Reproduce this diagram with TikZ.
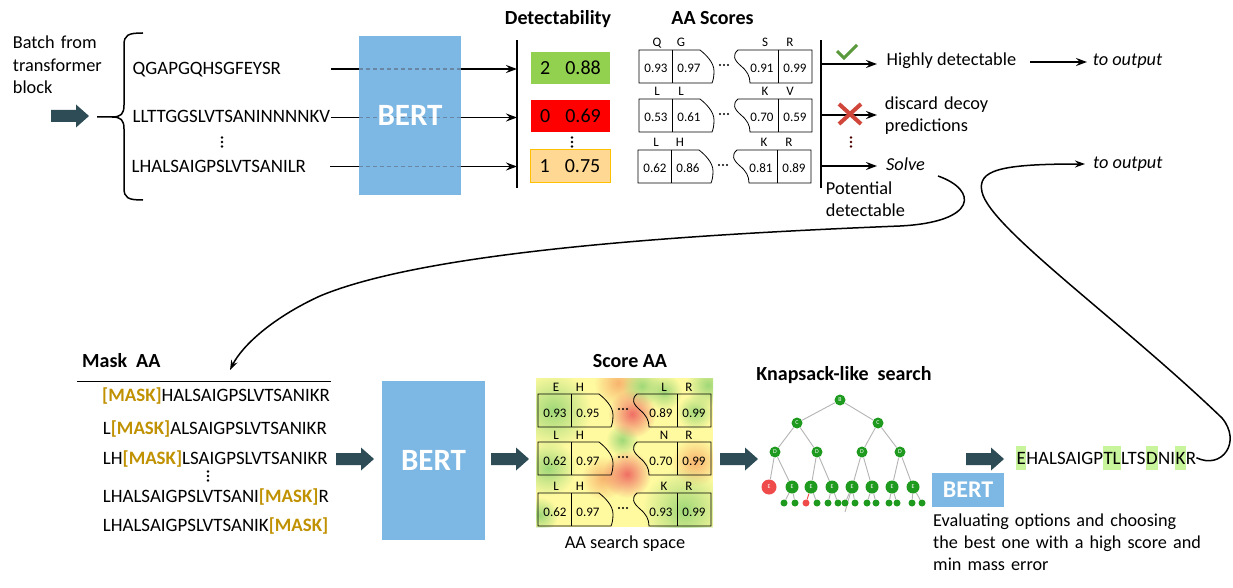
\documentclass[tikz,border=0pt]{standalone}
\usepackage{fontspec}
\setmainfont{Carlito}
\usetikzlibrary{arrows.meta,fadings}
\definecolor{bertblue}{RGB}{125,183,227}
\definecolor{darkarrow}{RGB}{46,76,85}
\definecolor{maskc}{RGB}{192,145,0}
\definecolor{detgreen}{RGB}{146,208,80}
\definecolor{detred}{RGB}{255,0,0}
\definecolor{detorange}{RGB}{255,217,148}
\definecolor{detorangeb}{RGB}{255,192,0}
\definecolor{checkc}{RGB}{90,154,60}
\definecolor{crossc}{RGB}{208,70,58}
\definecolor{hlgreen}{RGB}{200,244,155}
\definecolor{treegreen}{RGB}{30,154,30}
\definecolor{treered}{RGB}{240,75,75}
\definecolor{edgegray}{RGB}{180,180,180}
\definecolor{dashc}{RGB}{105,135,165}
\definecolor{heatyellow}{RGB}{255,250,160}
\definecolor{heatgreen}{RGB}{160,216,120}
\definecolor{heatred}{RGB}{240,110,100}
\definecolor{heatorange}{RGB}{248,180,110}
\tikzfading[name=softdot, inner color=transparent!0, outer color=transparent!100]
\newcommand{\mk}{\textcolor{maskc}{\textbf{[MASK]}}}
\newcommand{\hlb}[1]{{\setlength{\fboxsep}{0.5pt}\colorbox{hlgreen}{\rule[-5pt]{0pt}{22.5pt}#1}}}
\tikzset{
  txt/.style={inner sep=0pt, font=\fontsize{18.3}{22.5}\selectfont},
  seqtxt/.style={inner sep=0pt, font=\fontsize{18.9}{22.5}\selectfont},
  ttl/.style={inner sep=0pt, font=\fontsize{20}{24}\selectfont\bfseries},
  smalltxt/.style={inner sep=0pt, font=\fontsize{13}{15}\selectfont},
  arr/.style={line width=1.8pt, -{Stealth[length=11pt,width=8pt,inset=4pt]}},
  curvearr/.style={line width=1.5pt, -{Stealth[length=10pt,width=7pt,inset=3.5pt]}},
  bertbox/.style={fill=bertblue, inner sep=0pt},
  berttext/.style={inner sep=0pt, text=white, font=\fontsize{31}{31}\selectfont\bfseries},
  detbox/.style={minimum width=79pt, minimum height=32pt, inner sep=0pt, font=\fontsize{20}{20}\selectfont},
  blob/.style={path fading=softdot},
  tn/.style={circle, fill=treegreen, inner sep=0pt, minimum size=11pt, text=white, font=\fontsize{6}{6}\selectfont},
  te/.style={tn, minimum size=13pt},
  tleaf/.style={circle, fill=treegreen, inner sep=0pt, minimum size=7pt},
  tedge/.style={draw=edgegray, line width=0.9pt},
  pics/vdot/.style={code={
    \fill (0,-4.5) circle (1.3) (0,0) circle (1.3) (0,4.5) circle (1.3);}},
  pics/darr/.style={code={
    \fill[darkarrow] (0,-6) -- (25,-6) -- (25,-11.5) -- (38,0) -- (25,11.5) -- (25,6) -- (0,6) -- cycle;}},
  pics/aarow/.style n args={8}{code={
    \draw[line width=0.8pt] (0,0) -- (61,0) .. controls (66,4) and (75,12) .. (75,21) .. controls (75,27) and (74,31) .. (73,33) -- (0,33) -- cycle;
    \draw[line width=0.8pt] (33,0) -- (33,33);
    \draw[line width=0.8pt] (173,0) -- (99,0) .. controls (93,5) and (95,10) .. (102,16) .. controls (108,21) and (111,26) .. (111,33) -- (173,33) -- cycle;
    \draw[line width=0.8pt] (139,0) -- (139,33);
    \fill (81,15) circle (1.1) (85,15) circle (1.1) (89,15) circle (1.1);
    \node[smalltxt, anchor=base] (-l1) at (18,-3) {#1};
    \node[smalltxt, anchor=base] (-l2) at (42,-3) {#2};
    \node[smalltxt, anchor=base] (-l3) at (126,-3) {#3};
    \node[smalltxt, anchor=base] (-l4) at (151,-3) {#4};
    \node[smalltxt, anchor=base] (-n1) at (17,23) {#5};
    \node[smalltxt, anchor=base] (-n2) at (50,23) {#6};
    \node[smalltxt, anchor=base] (-n3) at (123,23) {#7};
    \node[smalltxt, anchor=base] (-n4) at (156,23) {#8};
  }}
}
\begin{document}
\begin{tikzpicture}[x=1pt,y=-1pt]
\useasboundingbox (0,0) rectangle (1233,588);
\fill[white] (0,0) rectangle (1233,588);

% ---------------- top row ----------------
\node[txt, anchor=base west, text width=110pt, align=left] (batch) at (12.7,49) {Batch from\\transformer\\block};
\pic at (51,116) {darr};
\draw[line width=1.5pt] (143,33) .. controls (128,33) and (124,35) .. (124,45) -- (124,105) .. controls (124,114) and (121,117) .. (112,117) -- (97,117);
\draw[line width=1.5pt] (143,200) .. controls (128,200) and (124,198) .. (124,188) -- (124,129) .. controls (124,120) and (121,117) .. (112,117);

\node[seqtxt, anchor=base west] (s1) at (132.5,75) {QGAPGQHSGFEYSR};
\node[seqtxt, anchor=base west] (s2) at (132.5,123) {LLTTGGSLVTSANINNNNKV};
\pic at (222,142) {vdot};
\node[seqtxt, anchor=base west] (s3) at (131.5,173) {LHALSAIGPSLVTSANILR};

\coordinate (a1) at (331,69);   \coordinate (e1) at (517,69);
\coordinate (a2) at (331,117.5);\coordinate (e2) at (517,117.5);
\coordinate (a3) at (330,166.5);\coordinate (e3) at (517,166.5);
\draw[arr] (a1) -- (e1);
\draw[arr] (a2) -- (e2);
\draw[arr] (a3) -- (e3);

\node[bertbox, minimum width=102pt, minimum height=159pt] (bert1) at (410,115.5) {};
\draw[dashc, line width=1.2pt, dash pattern=on 4pt off 3pt] (359,69) -- (461,69) (359,117.5) -- (461,117.5) (359,166.5) -- (461,166.5);
\node[berttext] (bert1t) at (bert1.center) {BERT};

\draw[line width=1.2pt] (517,40) -- (517,188);
\node[ttl, anchor=base] (dettitle) at (558,25) {Detectability};
\node[detbox, fill=detgreen] (d1) at (570.5,68) {2\hspace{15pt}0.88};
\node[detbox, fill=detred] (d2) at (570.5,116) {0\hspace{15pt}0.69};
\pic at (572,142) {vdot};
\node[detbox, fill=detorange, draw=detorangeb, line width=1pt, minimum width=80pt, minimum height=33pt] (d3) at (570,166.5) {1\hspace{15pt}0.75};

\node[ttl, anchor=base] (aatitle) at (712.5,25) {AA Scores};
\pic (r1) at (639,50) {aarow={Q}{G}{S}{R}{0.93}{0.97}{0.91}{0.99}};
\pic (r2) at (639,99) {aarow={L}{L}{K}{V}{0.53}{0.61}{0.70}{0.59}};
\pic (r3) at (638,150) {aarow={L}{H}{K}{R}{0.62}{0.86}{0.81}{0.89}};

\draw[line width=1.2pt] (821,40) -- (821,188);
\coordinate (b1) at (821,64);  \coordinate (f1) at (877,64);
\coordinate (b2) at (821,115); \coordinate (f2) at (877,115);
\coordinate (b3) at (821,166); \coordinate (f3) at (877,166);
\draw[arr] (b1) -- (f1);
\draw[arr] (b2) -- (f2);
\draw[arr] (b3) -- (f3);
\draw[checkc, line width=3pt] (837,51) -- (844,58) -- (857,45);
\draw[crossc, line width=4pt] (839,104) -- (861,124) (839,124) -- (861,104);
\pic[black!70!red] at (851,142) {vdot};

\node[txt, anchor=base west] (hd) at (886.5,65.7) {Highly detectable};
\node[txt, anchor=base west, font=\fontsize{18.3}{22.5}\selectfont\itshape] (to1) at (1092.7,65.7) {to output};
\coordinate (h1) at (1030,62); \coordinate (h2) at (1087,62);
\draw[arr] (h1) -- (h2);
\node[txt, anchor=base west, text width=150pt, align=left, font=\fontsize{18.3}{22}\selectfont] (disc) at (884.7,109.3) {discard decoy\\predictions};
\node[txt, anchor=base west, font=\fontsize{18.3}{22.5}\selectfont\itshape] (solve) at (886,170.7) {Solve};
\node[txt, anchor=base west, text width=120pt, align=left, font=\fontsize{18.3}{22.7}\selectfont] (pot) at (825.7,194) {Potential\\detectable};
\node[txt, anchor=base west, font=\fontsize{18.3}{22.5}\selectfont\itshape] (to2) at (1093,169) {to output};

% ---------------- bottom row ----------------
\node[ttl, anchor=base west] (masktitle) at (82,367.3) {Mask~~AA};
\draw[line width=1pt] (77,381) -- (331,381);
\node[seqtxt, anchor=base west] (m1) at (102,401) {\mk HALSAIGPSLVTSANIKR};
\node[seqtxt, anchor=base west] (m2) at (102.7,434.3) {L\mk ALSAIGPSLVTSANIKR};
\node[seqtxt, anchor=base west] (m3) at (102.7,464.3) {LH\mk LSAIGPSLVTSANIKR};
\pic at (208,476) {vdot};
\node[seqtxt, anchor=base west] (m4) at (102.7,502.7) {LHALSAIGPSLVTSANI\mk R};
\node[seqtxt, anchor=base west] (m5) at (102.7,531.7) {LHALSAIGPSLVTSANIK\mk};

\coordinate (c1s) at (938,176);
\coordinate (c1e) at (230,370);
\draw[curvearr] (c1s) .. controls (978,190) and (978,222) .. (900,226) .. controls (700,234) and (430,250) .. (320,296) .. controls (272,318) and (242,346) .. (c1e);

\pic at (336,459) {darr};
\node[bertbox, minimum width=103pt, minimum height=159pt] (bert2) at (433.5,460.5) {};
\node[berttext] (bert2t) at (bert2.center) {BERT};
\pic at (491,459) {darr};

\node[ttl, anchor=base] (scoretitle) at (630,367.3) {Score AA};
\begin{scope}
  \clip (536,378) rectangle (713,527);
  \fill[heatyellow] (536,378) rectangle (713,527);
  \fill[heatorange, blob] (618,383) circle (24);
  \fill[heatorange, blob] (695,462) circle (24);
  \fill[heatorange, blob] (603,478) circle (22);
  \fill[heatgreen, blob] (553,410) circle (38);
  \fill[heatgreen, blob] (548,468) circle (28);
  \fill[heatgreen, blob] (642,386) circle (20);
  \fill[heatgreen, blob] (664,392) circle (18);
  \fill[heatgreen, blob] (622,440) circle (16);
  \fill[heatgreen, blob] (708,385) circle (22);
  \fill[heatgreen, blob] (695,412) circle (18);
  \fill[heatgreen, blob] (684,510) circle (42);
  \fill[heatgreen, blob] (540,515) circle (18);
  \fill[heatred, blob] (632,414) circle (24);
  \fill[heatred, blob] (627,474) circle (24);
\end{scope}
\pic (q1) at (538,394) {aarow={E}{H}{L}{R}{0.93}{0.95}{0.89}{0.99}};
\pic (q2) at (538,442) {aarow={L}{H}{N}{R}{0.62}{0.97}{0.70}{0.99}};
\pic (q3) at (538,493) {aarow={L}{H}{K}{R}{0.62}{0.97}{0.93}{0.99}};
\node[txt, anchor=base] (searchspace) at (625,548.3) {AA search space};

\pic at (720,459) {darr};
\node[ttl, anchor=base] (knaptitle) at (844,380.7) {Knapsack-like~~search};
% tree
\coordinate (Lx) at (845,512);
\node[tn] (B) at (840,400) {B};
\node[tn] (C1) at (797,423) {C};
\node[tn] (C2) at (878,423) {C};
\node[tn] (D1) at (775,452) {D};
\node[tn] (D2) at (817,452) {D};
\node[tn] (D3) at (862,452) {D};
\node[tn] (D4) at (900,452) {D};
\draw[tedge] (D3) -- (Lx);
\node[te, fill=treered, minimum size=15pt] (E1) at (769,487) {E};
\node[te] (E2) at (792,487) {E};
\node[te] (E3) at (811,487) {E};
\node[te] (E4) at (832,487) {E};
\node[te] (E5) at (852,487) {E};
\node[te] (E6) at (872,487) {E};
\node[te] (E7) at (892,487) {E};
\node[te] (E8) at (913,487) {E};
\foreach \n/\x in {L1/784,L2/795,L4/817,L5/828,L6/838,L7/845,L8/855,L9/867,L10/876,L11/889,L12/897,L13/912,L14/922}
  \node[tleaf] (\n) at (\x,503) {};
\node[tleaf, fill=treered] (L3) at (806,503) {};
\draw[tedge] (B) -- (C1) (B) -- (C2) (C1) -- (D1) (C1) -- (D2) (C2) -- (D3) (C2) -- (D4)
  (D1) -- (E1) (D1) -- (E2) (D2) -- (E3) (D2) -- (E4) (D3) -- (E6) (D4) -- (E7) (D4) -- (E8)
  (E2) -- (L1) (E2) -- (L2) (E3) -- (L4) (E4) -- (L5) (E4) -- (L6) (E5) -- (L7) (E5) -- (L8)
  (E6) -- (L9) (E6) -- (L10) (E7) -- (L11) (E7) -- (L12) (E8) -- (L13) (E8) -- (L14);
\draw[treered, line width=0.9pt] (E3) -- (L3);

\node[bertbox, minimum width=72pt, minimum height=34pt] (bert3) at (968,490) {};
\node[berttext, font=\fontsize{24}{24}\selectfont\bfseries] (bert3t) at (bert3.center) {BERT};
\pic at (966,459) {darr};
\node[seqtxt, anchor=base west] (fin) at (1016,464) {\hlb{E}HALSAIGP\hlb{TL}LTS\hlb{D}NI\hlb{K}R};
\node[txt, anchor=base west, text width=290pt, align=left, font=\fontsize{18.2}{22}\selectfont] (evaltxt) at (933,526) {Evaluating options and choosing\\the best one with a high score and\\min mass error};

\coordinate (c2e) at (1085,164);
\draw[curvearr] (fin.east) .. controls (1222,470) and (1242,442) .. (1222,418) .. controls (1120,320) and (990,228) .. (982,192) .. controls (977,170) and (1000,164) .. (c2e);
\end{tikzpicture}
\end{document}
